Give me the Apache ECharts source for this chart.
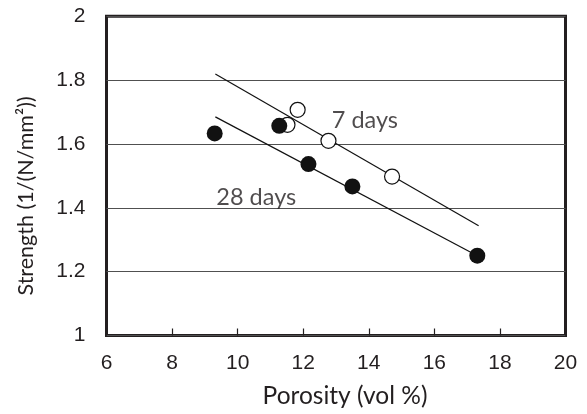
<!DOCTYPE html>
<html>
<head>
<meta charset="utf-8">
<script src="https://cdn.jsdelivr.net/npm/echarts@6/dist/echarts.min.js"></script>
<style>html,body{margin:0;padding:0;background:#fff}#c{width:587px;height:414px}</style>
</head>
<body>
<div id="c"></div>
<script>
// Data
var xTicks = [6, 8, 10, 12, 14, 16, 18, 20];
var yTicks = [1, 1.2, 1.4, 1.6, 1.8, 2];
var days28Points = [[9.30, 1.633], [11.27, 1.657], [12.16, 1.537], [13.50, 1.467], [17.31, 1.250]];
var days7Points = [[11.83, 1.707], [11.52, 1.660], [12.77, 1.610], [14.71, 1.498]];
var days7Fit = [[9.32, 1.819], [17.35, 1.344]];
var days28Fit = [[9.32, 1.685], [17.31, 1.250]];
var labels = [{name: '7 days', value: [12.87, 1.673]}, {name: '28 days', value: [9.35, 1.434]}];

var chart = echarts.init(document.getElementById('c'));
var labelFont = 'Lato, "Open Sans", sans-serif';
var numFont = '"Liberation Sans", Arial, sans-serif';
chart.setOption({
  animation: false,
  grid: {left: 106.5, right: 21.5, top: 16.3, bottom: 78.5, show: true, borderColor: '#231f20', borderWidth: 3, backgroundColor: 'transparent'},
  xAxis: {
    type: 'value', min: xTicks[0], max: xTicks[xTicks.length - 1], interval: 2,
    name: 'Porosity (vol %)', nameLocation: 'middle', nameGap: 48,
    nameTextStyle: {fontFamily: labelFont, fontSize: 24.5, color: '#231f20', padding: [0, 0, 0, 18]},
    axisLine: {show: false},
    axisTick: {show: true, inside: true, length: 7, lineStyle: {color: '#231f20', width: 1.2}},
    axisLabel: {fontFamily: numFont, fontSize: 21, color: '#231f20', margin: 17},
    splitLine: {show: false}
  },
  yAxis: {
    type: 'value', min: yTicks[0], max: yTicks[yTicks.length - 1], interval: 0.2,
    name: 'Strength (1/(N/mm²))', nameLocation: 'middle', nameGap: 69, nameRotate: 90,
    nameTextStyle: {fontFamily: labelFont, fontSize: 21.5, color: '#231f20', padding: [0, 40, 0, 0]},
    axisLine: {show: false},
    axisTick: {show: false},
    axisLabel: {fontFamily: numFont, fontSize: 21, color: '#231f20', margin: 21},
    splitLine: {show: true, lineStyle: {color: '#505050', width: 1}}
  },
  series: [
    {type: 'line', data: days7Fit, symbol: 'none', lineStyle: {color: '#111', width: 1.2}, z: 2},
    {type: 'line', data: days28Fit, symbol: 'none', lineStyle: {color: '#111', width: 1.2}, z: 2},
    {type: 'scatter', data: days7Points, symbol: 'circle', symbolSize: 15,
     itemStyle: {color: '#fff', borderColor: '#111', borderWidth: 1.2, opacity: 1}, z: 3},
    {type: 'scatter', data: days28Points, symbol: 'circle', symbolSize: 16,
     itemStyle: {color: '#111', opacity: 1}, z: 4},
    {type: 'scatter', data: labels, symbolSize: 0, z: 5,
     label: {show: true, position: 'right', distance: 0, formatter: '{b}', fontFamily: labelFont, fontSize: 23.5, color: '#231f20'}}
  ]
});
</script>
</body>
</html>
